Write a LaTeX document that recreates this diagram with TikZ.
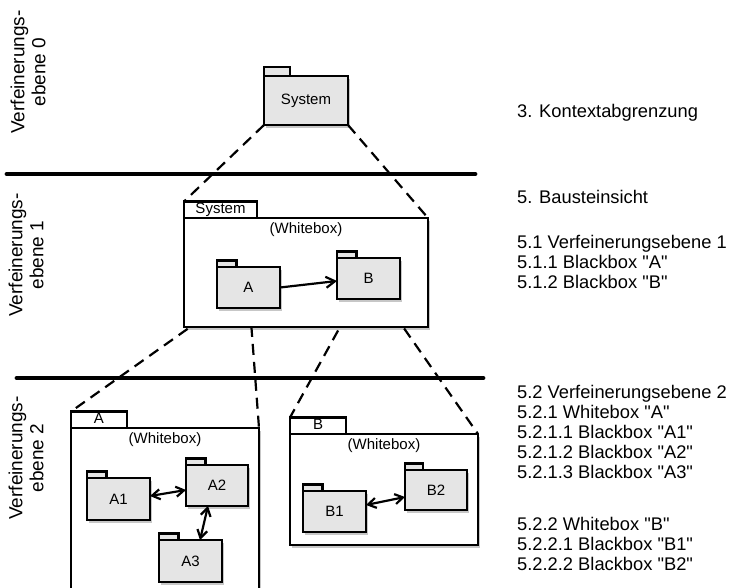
\documentclass[tikz,border=0pt]{standalone}
\usepackage{fontspec}
\setmainfont{Liberation Sans}[Ligatures=TeXOff]
\usetikzlibrary{arrows.meta,shadows,backgrounds}
\definecolor{pkgfill}{RGB}{229,229,229}
\begin{document}
\begin{tikzpicture}[x=1pt,y=-1pt,
  outline/.style={draw=black, line width=2.2pt, outer sep=0pt},
  pkgshadow/.style={drop shadow={shadow xshift=2pt, shadow yshift=-3pt, opacity=0.22, fill=black}},
  boxfont/.style={font=\fontsize{15}{17}\selectfont},
  pkg/.style={outline, fill=pkgfill, pkgshadow, anchor=north west, inner sep=0pt, boxfont},
  pkgtab/.style={outline, fill=pkgfill, anchor=south west, inner sep=0pt, minimum height=6.5pt, minimum width=19.5pt},
  whitebox/.style={outline, fill=white, pkgshadow, anchor=north west, inner sep=0pt, boxfont,
    label={[boxfont, anchor=north, inner sep=0pt, yshift=-4pt]north:(Whitebox)}},
  wbtab/.style={outline, fill=white, anchor=south west, inner sep=0pt, minimum height=16.5pt,
    text height=11pt, text depth=3.5pt, boxfont},
  levelline/.style={line width=4.8pt, line cap=round},
  refines/.style={line width=2.2pt, dash pattern=on 11pt off 7pt},
  dep/.style={line width=2.2pt, -{Straight Barb[length=9pt,width=11pt]}},
  mutual/.style={line width=2.2pt, {Straight Barb[length=8pt,width=10pt]}-{Straight Barb[length=8pt,width=10pt]}},
  levelname/.style={rotate=90, align=center, inner sep=0pt, font=\fontsize{19}{21}\selectfont},
  chapter/.style={anchor=west, align=left, inner sep=0pt, font=\fontsize{18.3}{20}\selectfont},
]
\useasboundingbox (0,0) rectangle (734,588);
\clip (0,0) rectangle (734,588);

% level 0: the system as a black box
\node[pkg, minimum width=84pt, minimum height=49pt] (sys0) at (264,76) {System};
\node[pkgtab, minimum width=26pt, minimum height=9pt] (sys0-tab) at (sys0.north west) {};

% level 1: the system as a white box
\node[whitebox, minimum width=244pt, minimum height=109pt] (SYS) at (184,218) {};
\node[wbtab, minimum width=73pt] (SYS-tab) at (SYS.north west) {System};
\node[pkg, minimum width=63pt, minimum height=41pt] (A) at (217,267) {A};
\node[pkgtab] (A-tab) at (A.north west) {};
\node[pkg, minimum width=63pt, minimum height=41pt] (B) at (337,258) {B};
\node[pkgtab] (B-tab) at (B.north west) {};

% level 2: white box A
\node[whitebox, minimum width=188pt, minimum height=190pt] (WA) at (71,428) {};
\node[wbtab, minimum width=56pt] (WA-tab) at (WA.north west) {A};
\node[pkg, minimum width=63pt, minimum height=42pt] (A1) at (87,478) {A1};
\node[pkgtab] (A1-tab) at (A1.north west) {};
\node[pkg, minimum width=62pt, minimum height=41pt] (A2) at (186,465) {A2};
\node[pkgtab] (A2-tab) at (A2.north west) {};
\node[pkg, minimum width=63pt, minimum height=42pt] (A3) at (159,540) {A3};
\node[pkgtab] (A3-tab) at (A3.north west) {};

% level 2: white box B
\node[whitebox, minimum width=188pt, minimum height=111pt] (WB) at (290,434) {};
\node[wbtab, minimum width=56pt] (WB-tab) at (WB.north west) {B};
\node[pkg, minimum width=63pt, minimum height=41pt] (B1) at (303,491) {B1};
\node[pkgtab] (B1-tab) at (B1.north west) {};
\node[pkg, minimum width=62pt, minimum height=40pt] (B2) at (405,470) {B2};
\node[pkgtab, minimum width=18pt] (B2-tab) at (B2.north west) {};

% dependencies
\draw[dep] (A.east) -- ([yshift=-2.5pt]B.west);
\draw[mutual] ([yshift=3pt]A1.east) -- ([yshift=-4.5pt]A2.west);
\draw[mutual] ([xshift=-9pt]A2.south) -- ([xshift=9.5pt]A3.north);
\draw[mutual] ([yshift=6.5pt]B1.east) -- ([yshift=-7pt]B2.west);

% level separators and refinement lines
\begin{scope}[on background layer]
  \coordinate (sep1a) at (7,174);  \coordinate (sep1b) at (475,174);
  \coordinate (sep2a) at (17,378); \coordinate (sep2b) at (483,378);
  \draw[levelline] (sep1a) -- (sep1b);
  \draw[levelline] (sep2a) -- (sep2b);
  \draw[refines] (sys0.south west) -- (SYS-tab.north west);
  \draw[refines] (sys0.south east) -- (SYS.north east);
  \draw[refines] (A.south west) -- (WA-tab.north west);
  \draw[refines] ([xshift=1.5pt]A.south) -- (WA.north east);
  \draw[refines] ([xshift=-13pt]B.south) -- (WB-tab.north west);
  \draw[refines] ([xshift=15pt]B.south) -- (WB.north east);
\end{scope}

% level names
\node[levelname] (lv0) at (28,72) {Verfeinerungs-\\ebene 0};
\node[levelname] (lv1) at (26,255) {Verfeinerungs-\\ebene 1};
\node[levelname] (lv2) at (26,458) {Verfeinerungs-\\ebene 2};

% document chapters
\node[chapter] (ch3) at (517,113) {3. Kontextabgrenzung};
\node[chapter] (ch5) at (517,197) {5. Bausteinsicht};
\node[chapter] (ch51) at (517,262) {5.1 Verfeinerungsebene 1\\5.1.1 Blackbox "A"\\5.1.2 Blackbox "B"};
\node[chapter] (ch52) at (517,432) {5.2 Verfeinerungsebene 2\\5.2.1 Whitebox "A"\\5.2.1.1 Blackbox "A1"\\5.2.1.2 Blackbox "A2"\\5.2.1.3 Blackbox "A3"};
\node[chapter] (ch522) at (517,544) {5.2.2 Whitebox "B"\\5.2.2.1 Blackbox "B1"\\5.2.2.2 Blackbox "B2"};
\end{tikzpicture}
\end{document}
